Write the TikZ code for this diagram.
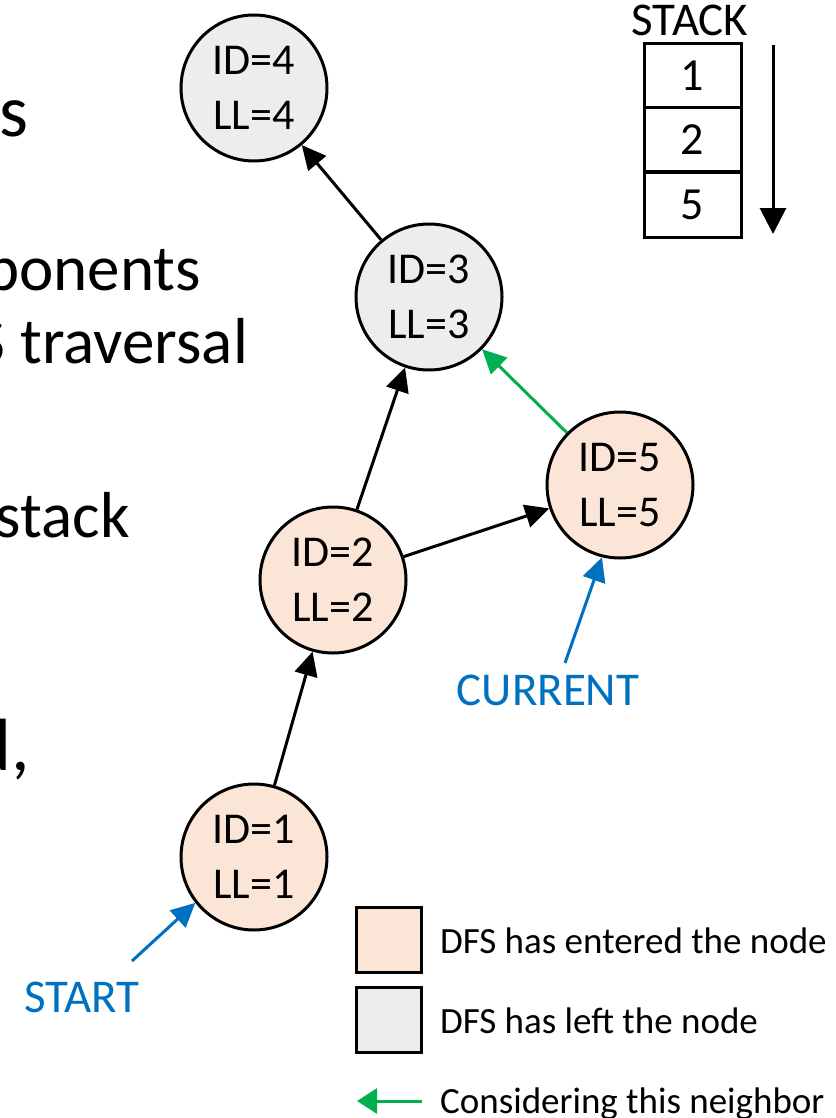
\documentclass[tikz,border=0pt]{standalone}
\usepackage{fontspec}
\setmainfont{Carlito}
\usetikzlibrary{arrows.meta}

\definecolor{enteredfill}{HTML}{FBE5D6}
\definecolor{leftfill}{HTML}{EDEDED}
\definecolor{hintblue}{HTML}{0070C0}
\definecolor{nbgreen}{HTML}{00B050}

\tikzset{
  vertex/.style={circle,draw,line width=3pt,minimum size=146pt,inner sep=0pt,
    align=center,font=\fontsize{44}{55}\selectfont},
  entered/.style={vertex,fill=enteredfill},
  visited/.style={vertex,fill=leftfill},
  edge/.style={line width=3pt,-{Triangle[length=24pt,width=23pt]}},
  slide/.style={anchor=base east,inner sep=0pt},
  hint/.style={text=hintblue,font=\fontsize{47}{56}\selectfont,anchor=base},
  legend/.style={anchor=base west,inner sep=0pt,font=\fontsize{37}{44}\selectfont},
  stackcell/.style={draw,line width=3pt,minimum width=97pt,minimum height=64pt,
    inner sep=0pt,font=\fontsize{46}{54}\selectfont},
  keybox/.style={draw,line width=3pt,minimum width=65pt,minimum height=65pt,inner sep=0pt}
}

\begin{document}
\begin{tikzpicture}[x=1pt,y=-1pt]
\useasboundingbox (0,0) rectangle (835,1118);
\clip (0,0) rectangle (835,1118);

% slide text cut off at the left
\node[slide,font=\fontsize{74}{88}\selectfont] (t1) at (29,137) {s};
\node[slide,font=\fontsize{65}{78}\selectfont] (t2) at (201,290) {ponents};
\node[slide,font=\fontsize{65}{78}\selectfont] (t3) at (248,363) {S traversal};
\node[slide,font=\fontsize{65}{78}\selectfont] (t4) at (130,537) {stack};
\node[slide,font=\fontsize{74}{88}\selectfont] (t5) at (30,770) {d,};

% graph
\node[visited] (n4) at (254,88) {ID=4\\LL=4};
\node[visited] (n3) at (429,297) {ID=3\\LL=3};
\node[entered] (n5) at (620,485) {ID=5\\LL=5};
\node[entered] (n2) at (333,580) {ID=2\\LL=2};
\node[entered] (n1) at (254,857) {ID=1\\LL=1};

\draw[edge] (n1) -- (n2);
\draw[edge] (n2) -- (n3);
\draw[edge] (n3) -- (n4);
\draw[edge] (n2) -- (n5);
\draw[edge,nbgreen] (n5) -- (n3);

% start / current markers
\node[hint] (start) at (82,1012) {START};
\coordinate (starttail) at (132,961);
\draw[edge,hintblue] (starttail) -- (n1.218);
\node[hint] (current) at (548,705) {CURRENT};
\coordinate (curtail) at (565,663);
\draw[edge,hintblue] (curtail) -- (n5.256);

% stack
\node[anchor=base,font=\fontsize{47}{56}\selectfont] (stack) at (690,36) {STACK};
\foreach \v/\y [count=\i] in {1/76,2/140,5/205}
  \node[stackcell] (s\i) at (692.5,\y) {\v};
\coordinate (stop) at (773,45);
\coordinate (sbot) at (773,234);
\draw[line width=3pt,-{Triangle[length=26pt,width=26pt]}] (stop) -- (sbot);

% legend
\node[keybox,fill=enteredfill] (k1) at (389,940) {};
\node[keybox,fill=leftfill] (k2) at (389,1020) {};
\node[legend] (l1) at (440,953) {DFS has entered the node};
\node[legend] (l2) at (440,1033) {DFS has left the node};
\node[legend] (l3) at (440,1113) {Considering this neighbor};
\coordinate (g1) at (422,1101);
\coordinate (g2) at (357,1101);
\draw[line width=3pt,nbgreen,-{Triangle[length=20pt,width=25pt]}] (g1) -- (g2);
\end{tikzpicture}
\end{document}
